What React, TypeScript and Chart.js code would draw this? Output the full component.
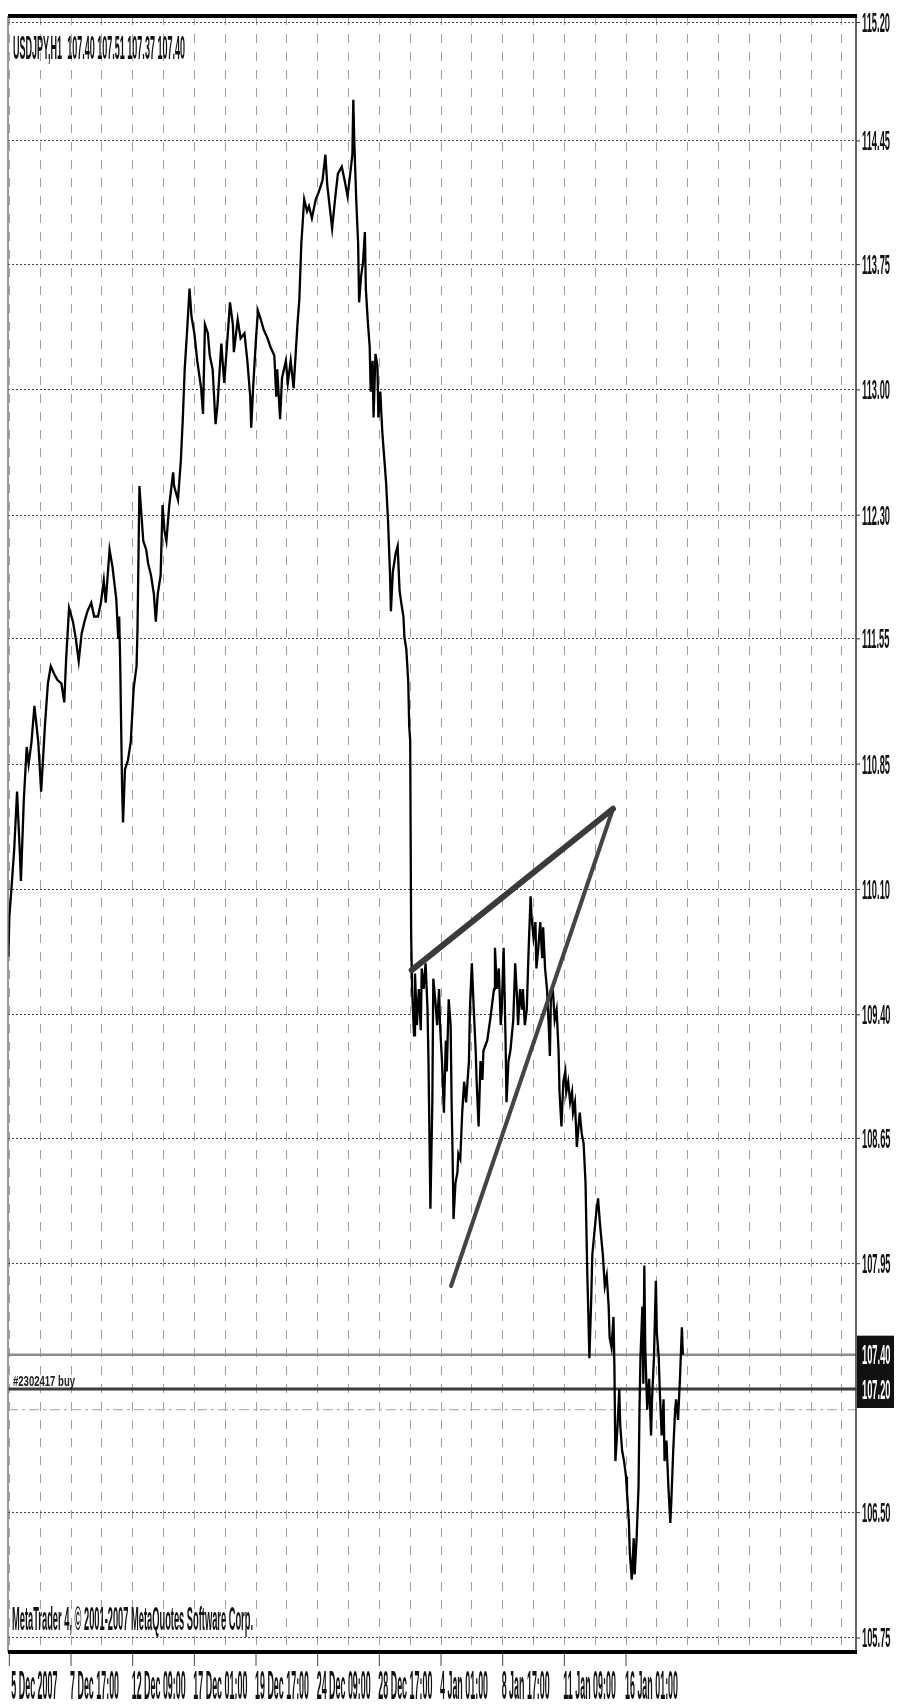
import React, { useEffect, useRef } from "react";
import { Chart, registerables } from "chart.js";

Chart.register(...registerables);

// ---- DATA (bar index counted in H1 bars from 5 Dec 2007, price) ----
const earlyDecember: [number, number][] = [
  [-1, 109.72], [0, 109.95], [2, 110.1], [5, 110.34], [8, 110.68], [11, 110.31], [12, 110.16],
  [15, 110.63], [18, 110.94], [20, 110.84], [23, 110.97], [26, 111.18], [30, 110.97], [33, 110.68],
  [37, 111.07], [40, 111.31], [43, 111.41], [47, 111.36], [50, 111.33], [54, 111.31], [57, 111.2],
  [59, 111.46], [62, 111.75], [66, 111.67], [69, 111.57], [72, 111.44], [75, 111.6], [78, 111.67],
  [81, 111.73], [85, 111.78], [88, 111.7], [92, 111.7], [95, 111.78], [98, 111.91], [100, 111.78],
  [104, 112.09], [107, 111.99], [111, 111.8], [113, 111.57], [114, 111.7], [115, 111.44],
  [117, 110.71], [118, 110.5], [120, 110.81], [123, 110.86], [126, 110.97], [129, 111.28],
  [132, 111.41], [133, 111.62],
];

const midDecember: [number, number][] = [
  [135, 112.46], [137, 112.3], [139, 112.14], [142, 112.09], [144, 112.01], [147, 111.94],
  [150, 111.83], [152, 111.67], [154, 111.83], [157, 111.94], [159, 112.35], [161, 112.2],
  [163, 112.14], [166, 112.35], [170, 112.54], [171, 112.46], [175, 112.38], [178, 112.61],
  [180, 112.85], [182, 113.14], [184, 113.32], [187, 113.61], [189, 113.45], [192, 113.35],
  [195, 113.19], [199, 113.03], [201, 112.88], [203, 113.4], [206, 113.35], [208, 113.22],
  [211, 113.14], [214, 112.82], [216, 112.93], [220, 113.29], [223, 113.06], [226, 113.29],
  [229, 113.53], [232, 113.4], [233, 113.24], [237, 113.43], [240, 113.32], [244, 113.35],
  [247, 113.19], [250, 112.98], [251, 112.8], [253, 113.03], [256, 113.32], [258, 113.48],
  [261, 113.43], [264, 113.37], [268, 113.32], [271, 113.27], [275, 113.22], [277, 112.98],
  [278, 113.14], [281, 112.85], [283, 113.09], [287, 113.19], [289, 113.06], [292, 113.19],
  [295, 113.03], [299, 113.4],
];

const christmasPeak: [number, number][] = [
  [301, 113.55], [303, 113.87], [306, 114.13], [309, 114.06], [311, 114.09], [314, 114.02],
  [318, 114.13], [321, 114.17], [325, 114.24], [328, 114.39], [330, 114.21], [333, 114.06],
  [335, 113.96], [338, 114.13], [341, 114.28], [345, 114.32], [348, 114.24], [351, 114.15],
  [353, 114.24], [356, 114.39], [357, 114.71], [358, 114.47], [360, 114.13], [362, 113.87],
  [363, 113.53], [365, 113.68], [367, 113.76], [369, 113.94], [370, 113.61], [372, 113.42],
  [374, 113.27], [375, 113.01], [377, 113.19], [378, 112.86], [380, 113.23], [382, 113.16],
  [383, 112.86], [385, 113.01], [387, 112.78], [389, 112.63], [391, 112.48], [393, 112.26],
  [395, 111.96], [396, 111.73], [398, 111.96], [401, 112.07], [403, 112.11], [405, 111.85],
  [407, 111.77], [409, 111.7], [410, 111.58], [412, 111.51], [414, 111.32], [415, 111.06],
  [416, 110.98],
];

const newYearRange: [number, number][] = [
  [417, 109.85], [418, 109.53], [420, 109.26], [421, 109.62], [423, 109.32], [425, 109.53],
  [427, 109.29], [428, 109.65], [430, 109.53], [432, 109.68], [434, 109.41], [435, 109.11],
  [437, 108.25], [439, 108.87], [440, 109.59], [442, 109.47], [444, 109.32], [446, 109.53],
  [447, 109.32], [449, 109.11], [451, 108.81], [453, 109.23], [454, 109.05], [456, 109.47],
  [458, 109.32], [459, 108.87], [460, 108.57], [461, 108.19], [463, 108.4], [465, 108.46],
  [466, 108.57], [468, 108.54], [470, 108.81], [472, 108.99], [474, 108.87], [477, 109.11],
  [478, 109.41], [480, 109.68], [482, 109.41], [484, 109.17], [485, 108.99], [487, 108.73],
  [489, 109.11], [491, 109.0], [492, 109.17], [496, 109.23], [499, 109.35], [503, 109.53],
  [504, 109.77], [506, 109.53], [508, 109.65], [510, 109.32], [511, 109.41], [513, 109.77],
  [515, 109.23], [516, 108.87], [518, 109.11], [520, 109.17], [523, 109.35], [525, 109.68],
  [527, 109.47], [528, 109.32], [530, 109.53], [532, 109.41], [533, 109.53], [535, 109.32],
  [537, 109.41], [539, 109.77], [541, 110.07], [542, 109.95], [544, 109.83], [546, 109.92],
  [547, 109.65], [549, 109.77], [551, 109.92], [553, 109.71], [554, 109.89], [556, 109.65],
  [558, 109.53], [560, 109.29], [561, 109.14], [562, 109.47], [564, 109.53], [566, 109.35],
  [568, 109.41], [570, 109.17], [571, 108.93], [573, 108.73], [575, 108.99], [577, 109.05],
  [578, 108.93], [580, 108.99], [582, 108.87], [584, 108.93], [585, 108.81], [587, 108.87],
  [589, 108.61], [591, 108.75], [592, 108.81], [594, 108.69], [596, 108.63], [598, 108.4],
];

const midJanuary: [number, number][] = [
  [599, 108.1], [600, 107.83], [601, 107.62], [602, 107.38], [604, 107.74], [605, 107.98],
  [607, 108.1], [609, 108.22], [611, 108.31], [613, 108.16], [615, 108.04], [616, 107.98],
  [618, 107.8], [620, 107.86], [622, 107.68], [623, 107.5], [625, 107.44], [627, 107.62],
  [628, 107.32], [629, 106.78], [631, 106.96], [633, 107.2], [634, 106.99], [636, 106.84],
  [638, 106.78], [640, 106.69], [641, 106.6], [643, 106.42], [644, 106.24], [646, 106.09],
  [648, 106.33], [649, 106.12], [651, 106.33], [653, 106.63], [654, 107.08], [655, 107.38],
  [657, 107.68], [658, 107.23], [659, 107.92], [660, 107.44], [662, 107.08], [664, 107.26],
  [666, 106.93], [667, 107.14], [669, 107.38], [671, 107.83], [672, 107.53], [674, 107.38],
  [675, 107.2], [677, 106.93], [679, 107.14], [680, 106.78], [682, 106.9], [684, 106.63],
  [686, 106.42], [687, 106.54], [689, 106.84], [691, 107.08], [692, 107.14], [694, 107.02],
  [696, 107.26], [698, 107.56], [699, 107.4],
];

const upperTrend: [number, number][] = [[417.6, 109.64], [626.5, 110.58]];
const lowerTrend: [number, number][] = [[458.4, 107.8], [626.5, 110.58]];

const bidPrice = 107.4;
const orderPrice = 107.2;
const stopPrice = 107.08;

const yGridValues = [105.75, 106.48, 107.2, 107.93, 108.66, 109.38, 110.11, 110.84, 111.57, 112.29, 113.02, 113.75, 114.47, 115.16];
const yTickLabels = ["105.75", "106.50", "107.20", "107.95", "108.65", "109.40", "110.10", "110.85", "111.55", "112.30", "113.00", "113.75", "114.45", "115.20"];

const xGridBars = [0, 32, 64, 96, 128, 160, 192, 224, 256, 288, 320, 352, 384, 416, 448, 480, 512, 544, 576, 608, 640, 672, 704, 736, 768, 800, 832, 864];
const xLabelBars = [0, 64, 128, 192, 256, 320, 384, 448, 512, 576, 640];
const xLabels = ["5 Dec 2007", "7 Dec 17:00", "12 Dec 09:00", "17 Dec 01:00", "19 Dec 17:00", "24 Dec 09:00", "28 Dec 17:00", "4 Jan 01:00", "8 Jan 17:00", "11 Jan 09:00", "16 Jan 01:00"];

const headerText = "USDJPY,H1  107.40 107.51 107.37 107.40";
const copyrightText = "MetaTrader 4, \u00a9 2001-2007 MetaQuotes Software Corp.";
const orderText = "#2302417 buy";

const X_MIN = -1.4;
const X_MAX = 878.7;
const Y_MIN = 105.668;
const Y_MAX = 115.198;

const FONT = '"Liberation Sans Narrow", "Liberation Sans", Arial, sans-serif';

function fitScale(ctx: CanvasRenderingContext2D, ref: string, px: number, target: number) {
  ctx.font = `bold ${px}px ${FONT}`;
  return target / ctx.measureText(ref).width;
}

function squish(ctx: CanvasRenderingContext2D, text: string, x: number, base: number, px: number, sx: number, color: string) {
  ctx.save();
  ctx.font = `bold ${px}px ${FONT}`;
  ctx.fillStyle = color;
  ctx.textAlign = "left";
  ctx.textBaseline = "alphabetic";
  ctx.translate(x, base);
  ctx.scale(sx, 1);
  ctx.fillText(text, 0, 0);
  ctx.restore();
}

const mtPlugin = {
  id: "mt4decor",
  afterDraw(chart: any) {
    const { ctx, chartArea: a, scales } = chart;
    const xs = scales.x;
    const ys = scales.y;
    ctx.save();
    // frame
    ctx.lineCap = "butt";
    ctx.strokeStyle = "#777";
    ctx.lineWidth = 1.5;
    ctx.beginPath();
    ctx.moveTo(a.left, a.top);
    ctx.lineTo(a.left, a.bottom);
    ctx.stroke();
    ctx.strokeStyle = "#333";
    ctx.beginPath();
    ctx.moveTo(a.right, a.top);
    ctx.lineTo(a.right, a.bottom);
    ctx.stroke();
    ctx.strokeStyle = "#000";
    ctx.lineWidth = 4;
    ctx.beginPath();
    ctx.moveTo(a.left, a.top);
    ctx.lineTo(a.right + 1, a.top);
    ctx.moveTo(a.left, a.bottom);
    ctx.lineTo(a.right + 1, a.bottom);
    ctx.stroke();

    // right axis labels
    const sY = fitScale(ctx, "115.20", 27, 28);
    ctx.strokeStyle = "#333";
    ctx.lineWidth = 1;
    yGridValues.forEach((v, i) => {
      const yy = ys.getPixelForValue(v);
      ctx.beginPath();
      ctx.moveTo(a.right, yy);
      ctx.lineTo(a.right + 4, yy);
      ctx.stroke();
      squish(ctx, yTickLabels[i], a.right + 6, yy + 9.5, 27, sY, "#111");
    });
    // price boxes
    [bidPrice, orderPrice].forEach((p) => {
      const yy = ys.getPixelForValue(p);
      ctx.fillStyle = "#111";
      ctx.fillRect(a.right + 1, yy - 19, 37, 38);
    });
    [bidPrice, orderPrice].forEach((p) => {
      const yy = ys.getPixelForValue(p);
      squish(ctx, p.toFixed(2), a.right + 6, yy + 9.5, 27, sY, "#fff");
    });

    // bottom axis
    const sX = fitScale(ctx, "12 Dec 09:00", 40, 54);
    ctx.strokeStyle = "#444";
    ctx.lineWidth = 1;
    xLabelBars.forEach((b, i) => {
      const xx = xs.getPixelForValue(b);
      ctx.beginPath();
      ctx.moveTo(xx, a.bottom + 2);
      ctx.lineTo(xx, a.bottom + 14);
      ctx.stroke();
      squish(ctx, xLabels[i], xx - 1 + (i === 0 ? 3 : 0), a.bottom + 47, 40, sX, "#111");
    });

    // header / copyright / order label
    const sH = fitScale(ctx, headerText, 33, 172);
    squish(ctx, headerText, a.left + 5, a.top + 43, 33, sH, "#111");
    const sC = fitScale(ctx, copyrightText, 33, 241);
    squish(ctx, copyrightText, a.left + 4, a.bottom - 22, 33, sC, "#111");
    const sO = fitScale(ctx, orderText, 15, 62);
    squish(ctx, orderText, a.left + 5, ys.getPixelForValue(orderPrice) - 3, 15, sO, "#222");
    ctx.restore();
  },
};

const toXY = (pts: [number, number][]) => pts.map(([x, y]) => ({ x, y }));

export default function App() {
  const ref = useRef<HTMLCanvasElement | null>(null);
  useEffect(() => {
    if (!ref.current) return;
    const priceSeries = [...earlyDecember, ...midDecember, ...christmasPeak, ...newYearRange, ...midJanuary];
    const chart = new Chart(ref.current, {
      type: "line",
      data: {
        datasets: [
          { label: "USDJPY,H1", data: toXY(priceSeries), borderColor: "#000", borderWidth: 2.3, pointRadius: 0, tension: 0, order: 2 },
          { label: "upper", data: toXY(upperTrend), borderColor: "#3a3a3a", borderWidth: 6, pointRadius: 0, borderCapStyle: "round", order: 0 },
          { label: "lower", data: toXY(lowerTrend), borderColor: "#444", borderWidth: 4, pointRadius: 0, borderCapStyle: "round", order: 0 },
          { label: "bid", data: [{ x: X_MIN, y: bidPrice }, { x: X_MAX, y: bidPrice }], borderColor: "#8c8c8c", borderWidth: 2.5, pointRadius: 0, order: 3 },
          { label: "order", data: [{ x: X_MIN, y: orderPrice }, { x: X_MAX, y: orderPrice }], borderColor: "#3c3c3c", borderWidth: 3, pointRadius: 0, order: 3 },
          { label: "stop", data: [{ x: X_MIN, y: stopPrice }, { x: X_MAX, y: stopPrice }], borderColor: "#b5b5b5", borderWidth: 1.2, borderDash: [10, 4, 3, 4], pointRadius: 0, order: 3 },
        ] as any,
      },
      options: {
        animation: false,
        responsive: false,
        devicePixelRatio: 1,
        events: [],
        layout: { padding: { left: 8, top: 16, right: 43, bottom: 53 } },
        plugins: { legend: { display: false }, tooltip: { enabled: false } },
        scales: {
          x: {
            type: "linear",
            min: X_MIN,
            max: X_MAX,
            afterBuildTicks: (s: any) => { s.ticks = xGridBars.map((v) => ({ value: v })); },
            afterFit: (s: any) => { s.height = 0; },
            ticks: { display: false },
            grid: { color: "#a0a0a0", lineWidth: 1, drawTicks: false },
            border: { display: false, dash: [9, 9] },
          },
          y: {
            type: "linear",
            min: Y_MIN,
            max: Y_MAX,
            afterBuildTicks: (s: any) => { s.ticks = yGridValues.map((v) => ({ value: v })); },
            afterFit: (s: any) => { s.width = 0; },
            ticks: { display: false },
            grid: { color: "#444", lineWidth: 1, drawTicks: false },
            border: { display: false, dash: [2, 2] },
          },
        },
      } as any,
      plugins: [mtPlugin],
    });
    return () => chart.destroy();
  }, []);
  return (
    <div style={{ position: "absolute", left: 0, top: 0, width: 899, height: 1705, background: "#fff" }}>
      <canvas ref={ref} width={899} height={1705} style={{ display: "block", width: 899, height: 1705 }} />
    </div>
  );
}
